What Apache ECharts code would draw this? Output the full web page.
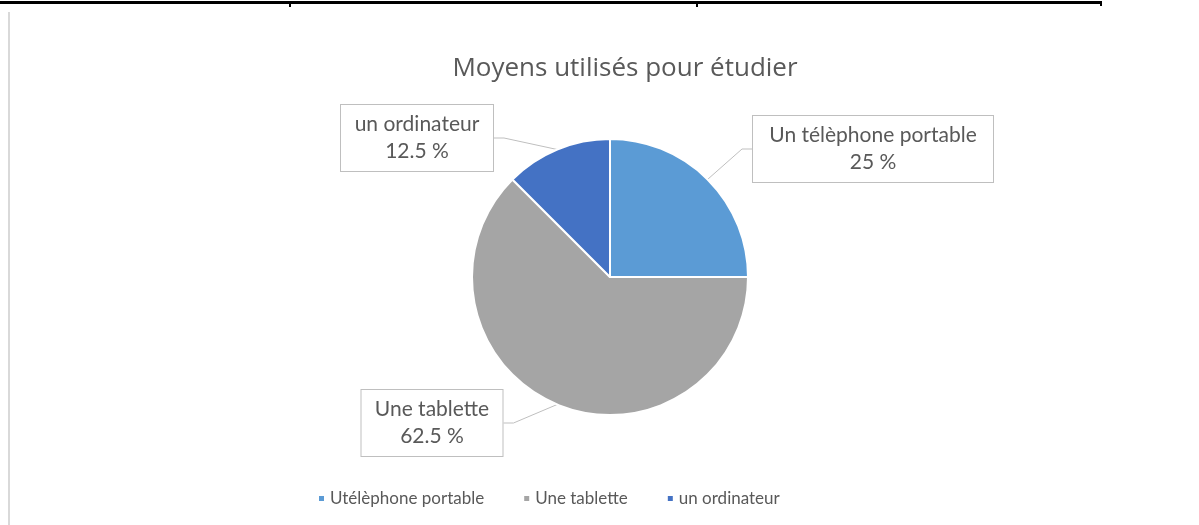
<!DOCTYPE html>
<html>
<head>
<meta charset="utf-8">
<script src="https://cdn.jsdelivr.net/npm/echarts@6/dist/echarts.min.js"></script>
<style>
  html, body { margin: 0; padding: 0; background: #fff; }
  #chart { width: 1199px; height: 525px; }
</style>
</head>
<body>
<div id="chart"></div>
<script>
// legend names (as written in the legend)
var categories = ['Utélèphone portable', 'Une tablette', 'un ordinateur'];
// names shown in the callout labels
var labelNames = ['Un télèphone portable', 'Une tablette', 'un ordinateur'];
// percentages
var values = [25, 62.5, 12.5];

var colors = ['#5B9BD5', '#A5A5A5', '#4472C4'];
// where each callout box sits (center, px)
var calloutPos = [[873, 149], [432, 423], [417, 138]];
var calloutWidth = [224, 125, 136];

var chart = echarts.init(document.getElementById('chart'));

var pieData = categories.map(function (name, i) {
  return {
    name: name,
    value: values[i],
    itemStyle: { color: colors[i] },
    label: { width: calloutWidth[i] }
  };
});

chart.setOption({
  animation: false,
  textStyle: { fontFamily: 'Lato, "Open Sans", sans-serif' },
  title: {
    text: 'Moyens utilisés pour étudier',
    left: 620,
    top: 51,
    textAlign: 'center',
    textStyle: { fontSize: 26, fontWeight: 'normal', color: '#595959', fontFamily: '"Open Sans"' }
  },
  legend: {
    top: 490,
    left: 317,
    padding: 0,
    icon: 'rect',
    itemWidth: 7,
    itemHeight: 7,
    itemGap: 38,
    textStyle: { fontSize: 17, color: '#595959', fontFamily: 'Lato' },
    data: categories
  },
  graphic: [
    { type: 'rect', shape: { x: 0, y: 1, width: 1102, height: 3 }, style: { fill: '#000' } },
    { type: 'rect', shape: { x: 289, y: 1, width: 2, height: 6 }, style: { fill: '#000' } },
    { type: 'rect', shape: { x: 696, y: 1, width: 2, height: 6 }, style: { fill: '#000' } },
    { type: 'rect', shape: { x: 1100, y: 1, width: 2, height: 5 }, style: { fill: '#000' } },
    { type: 'rect', shape: { x: 8, y: 12, width: 2, height: 513 }, style: { fill: '#D9D9D9' } }
  ],
  series: [{
    type: 'pie',
    center: [610, 277],
    radius: 138,
    startAngle: 90,
    clockwise: true,
    itemStyle: { borderColor: '#fff', borderWidth: 2 },
    label: {
      show: true,
      position: 'outside',
      formatter: function (p) { return labelNames[p.dataIndex] + '\n' + p.value + ' %'; },
      fontSize: 21,
      lineHeight: 27,
      color: '#595959',
      fontFamily: 'Lato',
      align: 'center',
      backgroundColor: '#fff',
      borderColor: '#BFBFBF',
      borderWidth: 1,
      padding: [6, 8]
    },
    labelLine: {
      show: true,
      length: 10,
      length2: 10,
      lineStyle: { color: '#BFBFBF', width: 1 }
    },
    labelLayout: function (params) {
      var pos = calloutPos[params.dataIndex];
      return { x: pos[0], y: pos[1], align: 'center', verticalAlign: 'middle' };
    },
    emphasis: { disabled: true },
    data: pieData
  }]
});
</script>
</body>
</html>
